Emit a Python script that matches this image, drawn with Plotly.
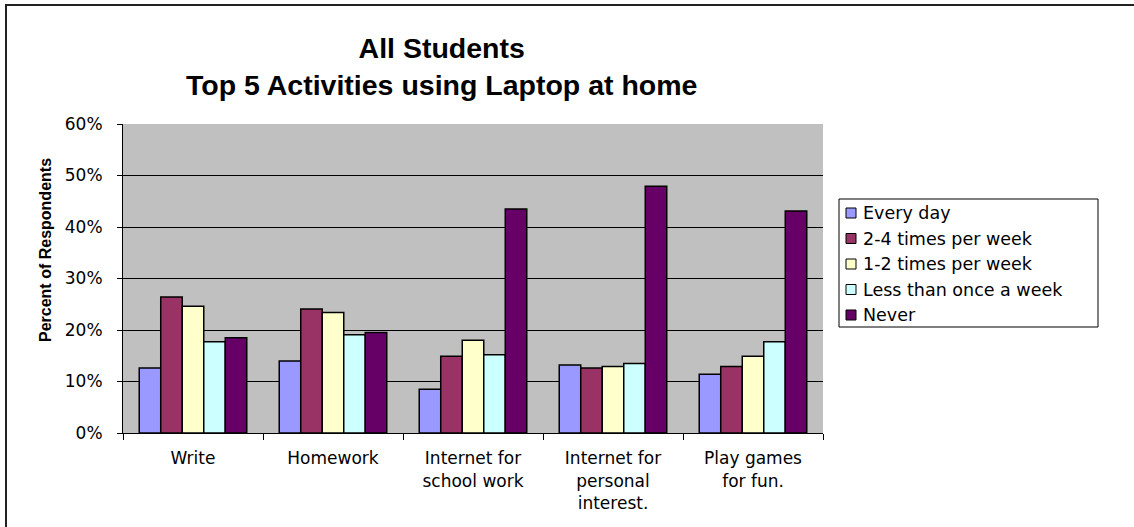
import plotly.graph_objects as go

# Activity categories (line breaks as shown on the axis)
categories = [
    "Write",
    "Homework",
    "Internet for<br>school work",
    "Internet for<br>personal<br>interest.",
    "Play games<br>for fun.",
]

# Share of respondents per frequency
every_day = [0.126, 0.140, 0.085, 0.132, 0.114]
times_2_4_week = [0.264, 0.241, 0.149, 0.126, 0.129]
times_1_2_week = [0.246, 0.234, 0.180, 0.129, 0.149]
less_than_weekly = [0.177, 0.191, 0.152, 0.135, 0.177]
never = [0.185, 0.195, 0.435, 0.479, 0.431]

series_names = [
    "Every day",
    "2-4 times per week",
    "1-2 times per week",
    "Less than once a week",
    "Never",
]
series_values = [every_day, times_2_4_week, times_1_2_week, less_than_weekly, never]
series_colors = ["#9999FF", "#993366", "#FFFFCC", "#CCFFFF", "#660066"]

W, H = 1134, 527
L, R, T, B = 123, 1134 - 823, 124, 527 - 433
PW, PH = W - L - R, H - T - B


def px_x(x):
    return (x - L) / PW


def px_y(y):
    return (H - B - y) / PH


fig = go.Figure()
for name, vals, col in zip(series_names, series_values, series_colors):
    fig.add_trace(
        go.Bar(
            name=name,
            x=categories,
            y=vals,
            marker=dict(color=col, line=dict(color="#000000", width=1.5)),
            showlegend=False,
        )
    )

axis_font = dict(family="DejaVu Sans", size=17, color="#000000")

fig.update_layout(
    width=W,
    height=H,
    margin=dict(l=L, r=R, t=T, b=B),
    paper_bgcolor="#FFFFFF",
    plot_bgcolor="#C0C0C0",
    barmode="group",
    bargap=0.232,
    bargroupgap=0,
    xaxis=dict(
        type="category",
        showgrid=False,
        showline=True,
        linecolor="#000000",
        linewidth=1,
        ticks="outside",
        ticklen=6,
        tickcolor="#000000",
        tickson="boundaries",
        tickfont=axis_font,
        ticklabelstandoff=10,
    ),
    yaxis=dict(
        range=[0, 0.6],
        dtick=0.1,
        tickformat=".0%",
        showgrid=True,
        gridcolor="#000000",
        gridwidth=1,
        showline=True,
        linecolor="#000000",
        linewidth=1,
        ticks="outside",
        ticklen=5,
        tickcolor="#000000",
        tickfont=axis_font,
        ticklabelstandoff=11,
        zeroline=False,
    ),
)

# Chart title (two lines)
fig.add_annotation(
    text="<b>All Students<br>Top 5 Activities using Laptop at home</b>",
    xref="paper",
    yref="paper",
    x=px_x(441),
    y=px_y(66),
    xanchor="center",
    yanchor="middle",
    showarrow=False,
    font=dict(family="Liberation Sans, Arial", size=28.5, color="#000000"),
)

# Y axis title
fig.add_annotation(
    text="<b>Percent of Respondents</b>",
    xref="paper",
    yref="paper",
    x=px_x(45),
    y=px_y(250),
    xanchor="center",
    yanchor="middle",
    textangle=-90,
    showarrow=False,
    font=dict(family="Liberation Sans, Arial", size=16, color="#000000"),
)

# Legend box with a swatch and label per series
legend_left, legend_right, legend_top, legend_bottom = 839, 1098, 199, 327
fig.add_shape(
    type="rect",
    xref="paper",
    yref="paper",
    x0=px_x(legend_left),
    x1=px_x(legend_right),
    y0=px_y(legend_bottom),
    y1=px_y(legend_top),
    line=dict(color="#000000", width=1),
    fillcolor="#FFFFFF",
    layer="above",
)
row_step = 25.5
for i, (name, col) in enumerate(zip(series_names, series_colors)):
    cy = 213 + i * row_step
    fig.add_shape(
        type="rect",
        xref="paper",
        yref="paper",
        x0=px_x(846),
        x1=px_x(856),
        y0=px_y(cy + 5),
        y1=px_y(cy - 5),
        line=dict(color="#000000", width=1),
        fillcolor=col,
        layer="above",
    )
    fig.add_annotation(
        text=name,
        xref="paper",
        yref="paper",
        x=px_x(861),
        y=px_y(cy),
        xanchor="left",
        yanchor="middle",
        showarrow=False,
        font=dict(family="DejaVu Sans", size=17.5, color="#000000"),
    )

# Outer chart frame: left and top edges (the others fall outside the page)
fx0, fy_top, fx_far, fy_far = px_x(6), px_y(5), px_x(1300), px_y(700)
fig.add_shape(
    type="path",
    xref="paper",
    yref="paper",
    path=f"M {fx0},{fy_far} L {fx0},{fy_top} L {fx_far},{fy_top}",
    line=dict(color="#222222", width=2),
    layer="above",
)

fig.write_html("out.html")
